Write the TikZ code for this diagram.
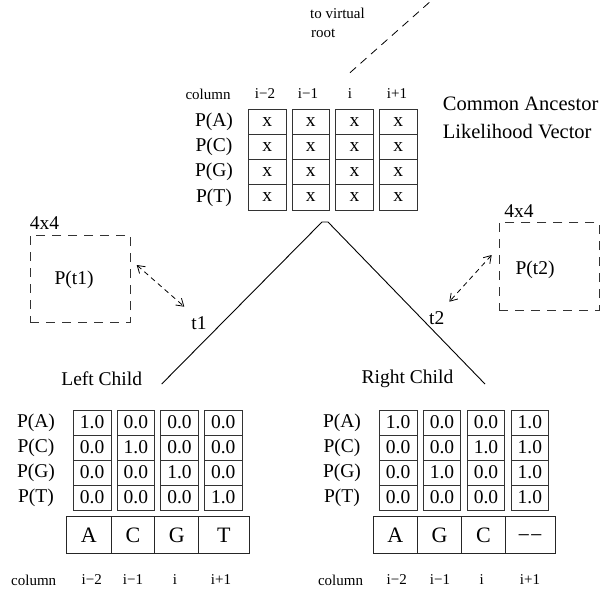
\documentclass[tikz,border=0pt]{standalone}
\usepackage{fontspec}
\setmainfont{Liberation Serif}
\usetikzlibrary{arrows.meta}
\begin{document}
\begin{tikzpicture}[x=1pt,y=-1pt,
  txt/.style={inner sep=0pt, font=\fontsize{19.5}{22}\selectfont},
  small/.style={inner sep=0pt, font=\fontsize{15}{18}\selectfont},
  big/.style={inner sep=0pt, font=\fontsize{20.5}{24}\selectfont},
  cell/.style={draw=black!80, line width=0.9pt, minimum width=37.7pt, minimum height=25pt, inner sep=0pt, font=\fontsize{19.5}{22}\selectfont},
  lcell/.style={draw=black!85, line width=0.9pt, minimum height=37pt, inner sep=0pt, font=\fontsize{22}{26}\selectfont},
  dbox/.style={draw=black!80, line width=0.9pt, dash pattern=on 9pt off 7pt, inner sep=0pt},
  tree/.style={draw=black, line width=0.9pt},
  darr/.style={line width=0.8pt, dash pattern=on 5pt off 4pt, {Straight Barb[length=7pt,width=9pt]}-{Straight Barb[length=7pt,width=9pt]}},
  rootline/.style={line width=0.8pt, dash pattern=on 8pt off 6pt}]

\useasboundingbox (0,0) rectangle (608,592);

% ---- top: common ancestor ----
\node[small, anchor=west] (tv1) at (310,13.3) {to virtual};
\node[small, anchor=west] (tv2) at (311,33.3) {root};
\coordinate (rootA) at (350,72.7);
\coordinate (rootB) at (432,0);
\draw[rootline] (rootA) -- (rootB);

\node[small] (tcol) at (208,94) {column};
\foreach \lab/\xx [count=\c from 0] in {i−2/265, i−1/308, i/350, i+1/397}
  \node[small] (tc\c) at (\xx,94) {\lab};

\foreach \lab [count=\r from 0] in {P(A),P(C),P(G),P(T)} {
  \node[txt] (tr\r) at (214,121.9+25.2*\r) {\lab};
  \foreach \c in {0,1,2,3}
    \node[cell, minimum height=25.2pt] (T-\r-\c) at (267.15+43.7*\c,121.9+25.2*\r) {x};
}

\node[big, anchor=west] (ca1) at (442.7,104) {Common Ancestor};
\node[big, anchor=west] (ca2) at (442.7,131.7) {Likelihood Vector};

% ---- tree ----
\coordinate (apexL) at (322,222);
\coordinate (apexR) at (328,222);
\coordinate (leftEnd) at (161.7,384);
\coordinate (rightEnd) at (485,384);
\draw[tree] (leftEnd) -- (apexL) -- (apexR) -- (rightEnd);

\node[txt] (t1) at (199,323) {t1};
\node[txt] (t2) at (436.7,317.7) {t2};
\node[txt] (lc) at (101.7,379) {Left Child};
\node[txt] (rc) at (407.5,379) {Right Child};

% ---- transition matrices ----
\node[dbox, minimum width=100pt, minimum height=87pt] (box1) at (80,278.5) {};
\node[dbox, minimum width=100pt, minimum height=87.3pt] (box2) at (549,266.35) {};
\node[txt] (k1) at (44.5,223) {4x4};
\node[txt] (k2) at (519,210.7) {4x4};
\node[txt] (pt1) at (74,280) {P(t1)};
\node[txt] (pt2) at (535,270) {P(t2)};
\coordinate (a1s) at (136.7,265);
\coordinate (a1e) at (184.3,306.7);
\coordinate (a2s) at (491.7,255);
\coordinate (a2e) at (449.3,301.7);
\draw[darr] (a1s) -- (a1e);
\draw[darr] (a2s) -- (a2e);

% ---- left child ----
\foreach \lab/\row [count=\r from 0] in {P(A)/{1.0,0.0,0.0,0.0}, P(C)/{0.0,1.0,0.0,0.0}, P(G)/{0.0,0.0,1.0,0.0}, P(T)/{0.0,0.0,0.0,1.0}} {
  \node[txt] (lr\r) at (36,422.5+25*\r) {\lab};
  \foreach \v [count=\c from 0] in \row
    \node[cell] (L-\r-\c) at (92.15+43.7*\c,422.5+25*\r) {\v};
}
\foreach \lab/\xx/\ww [count=\c from 0] in {A/88.85/44.3, C/132.85/43.7, G/176.7/44, T/223.85/50.3}
  \node[lcell, minimum width=\ww pt] (LS\c) at (\xx,535) {\lab};

\node[small] (lcol) at (33.7,580) {column};
\foreach \lab/\xx [count=\c from 0] in {i−2/91.7, i−1/133, i/175, i+1/221}
  \node[small] (lcl\c) at (\xx,580) {\lab};

% ---- right child ----
\foreach \lab/\row [count=\r from 0] in {P(A)/{1.0,0.0,0.0,1.0}, P(C)/{0.0,0.0,1.0,1.0}, P(G)/{0.0,1.0,0.0,1.0}, P(T)/{0.0,0.0,0.0,1.0}} {
  \node[txt] (rr\r) at (342,422.5+25*\r) {\lab};
  \foreach \v [count=\c from 0] in \row
    \node[cell] (R-\r-\c) at (398.15+43.9*\c,422.5+25*\r) {\v};
}
\foreach \lab/\xx/\ww [count=\c from 0] in {A/395.3/44, G/439.5/44.4, C/483.35/43.3}
  \node[lcell, minimum width=\ww pt] (RS\c) at (\xx,535) {\lab};
\node[lcell, minimum width=50pt] (RS3) at (530,535) {\vphantom{A}−−};

\node[small] (rcol) at (340.5,580) {column};
\foreach \lab/\xx [count=\c from 0] in {i−2/396.7, i−1/440, i/481.7, i+1/530}
  \node[small] (rcl\c) at (\xx,580) {\lab};

\end{tikzpicture}
\end{document}
